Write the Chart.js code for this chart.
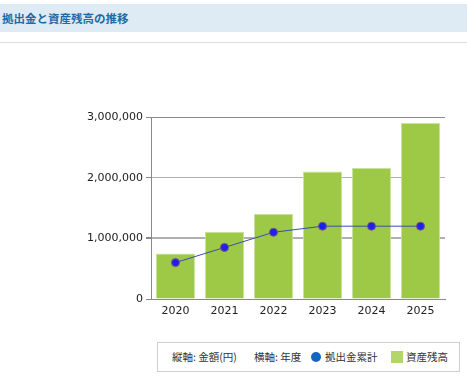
<!DOCTYPE html>
<html lang="ja">
<head>
  <meta charset="UTF-8" />
  <title>拠出金と資産残高の推移</title>
  <script src="https://cdn.jsdelivr.net/npm/chart.js"></script>
  <style>
    body {
      margin: 0;
      width: 467px;
      height: 377px;
      background: #fff;
      position: relative;
      overflow: hidden;
      font-family: 'Noto Sans CJK JP', sans-serif;
    }
    .cabecera {
      position: absolute;
      left: 0; top: 4px;
      width: 467px; height: 28px;
      background: #deebf4;
      color: #1f6aa6;
      font-weight: bold;
      font-size: 11.5px;
      line-height: 28px;
      padding-left: 2px;
      box-sizing: border-box;
    }
    .linea {
      position: absolute;
      left: 0; top: 42px;
      width: 467px; height: 1px;
      background: #dcdcdc;
    }
    .grafico {
      position: absolute;
      left: 60px; top: 105px;
      width: 395px; height: 220px;
    }
    .leyenda {
      position: absolute;
      left: 157px; top: 342px;
      width: 303px; height: 30px;
      border: 1px solid #cfcfcf;
      box-sizing: border-box;
      font-size: 10.5px;
      color: #333;
      white-space: nowrap;
    }
    .leyenda span { position: absolute; top: 0; line-height: 28px; }
    .leyenda i { position: absolute; display: block; }
    .punto { width: 10px; height: 10px; border-radius: 50%; background: #1565c0; top: 9px; left: 153px; }
    .cuadro { width: 12px; height: 12px; background: #b2d66a; top: 8px; left: 233px; }
  </style>
</head>
<body>

<div class="cabecera">拠出金と資産残高の推移</div>
<div class="linea"></div>

<div class="grafico"><canvas id="graficoPatrimonio"></canvas></div>

<div class="leyenda">
  <span style="left:14px">縦軸: 金額(円)</span>
  <span style="left:96px">横軸: 年度</span>
  <i class="punto"></i><span style="left:167px">拠出金累計</span>
  <i class="cuadro"></i><span style="left:248px">資産残高</span>
</div>

<script>
  const anios = ['2020', '2021', '2022', '2023', '2024', '2025'];
  const aportesAcumulados = [600000, 850000, 1100000, 1200000, 1200000, 1200000];
  const saldoActivos = [750000, 1110000, 1400000, 2100000, 2160000, 2900000];
  const ticksY = [0, 1000000, 2000000, 3000000];

  const fuenteEje = { family: '"DejaVu Sans", Verdana, sans-serif', size: 11 };

  new Chart(document.getElementById('graficoPatrimonio').getContext('2d'), {
    data: {
      labels: anios,
      datasets: [
        {
          type: 'line',
          label: '拠出金累計',
          data: aportesAcumulados,
          borderColor: '#3550a8',
          borderWidth: 1,
          pointBackgroundColor: '#1a22f0',
          pointBorderColor: '#8a4f86',
          pointBorderWidth: 1,
          pointRadius: 4,
          tension: 0,
          order: 0
        },
        {
          type: 'bar',
          label: '資産残高',
          data: saldoActivos,
          backgroundColor: '#9dc947',
          borderColor: '#c9e29c',
          borderWidth: 1,
          barPercentage: 0.8,
          categoryPercentage: 1,
          order: 1
        }
      ]
    },
    options: {
      responsive: true,
      maintainAspectRatio: false,
      animation: false,
      layout: { padding: { top: 12, right: 10, left: 0, bottom: 0 } },
      plugins: {
        legend: { display: false },
        tooltip: { enabled: false }
      },
      scales: {
        x: {
          grid: { display: false, drawTicks: false },
          border: { color: '#888', width: 1 },
          ticks: { color: '#222', font: fuenteEje, padding: 6 },
          afterFit: scale => { scale.height = 26; }
        },
        y: {
          min: 0,
          max: 3000000,
          afterBuildTicks: scale => { scale.ticks = ticksY.map(v => ({ value: v })); },
          grid: {
            color: ctx => ctx.tick && ctx.tick.value === 3000000 ? '#8c8c8c' : '#b0b0b0',
            lineWidth: ctx => ctx.tick && ctx.tick.value === 1000000 ? 2 : 1,
            tickLength: 5,
            tickColor: '#888'
          },
          border: { color: '#888', width: 1 },
          ticks: {
            color: '#222',
            font: fuenteEje,
            padding: 3,
            callback: v => v.toLocaleString('en-US')
          },
          afterFit: scale => { scale.width = 91; }
        }
      }
    }
  });
</script>

</body>
</html>
